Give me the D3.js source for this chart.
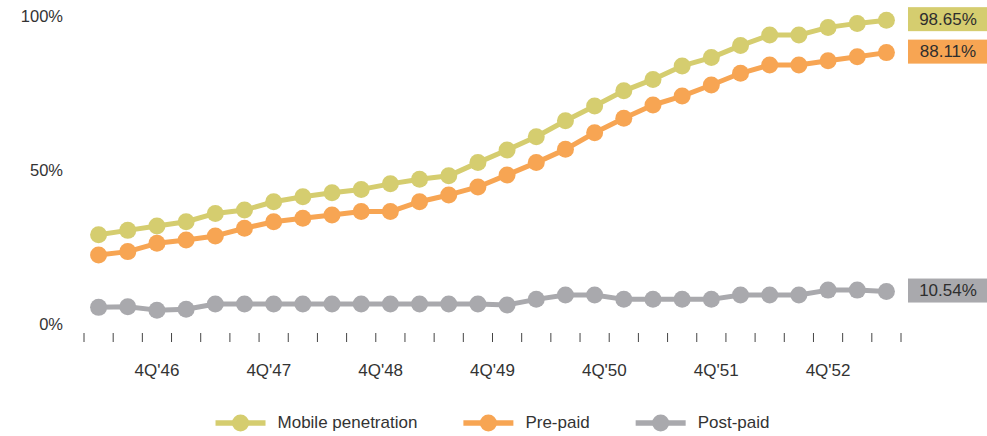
<!DOCTYPE html>
<html>
<head>
<meta charset="utf-8">
<script src="https://cdn.jsdelivr.net/npm/d3@7/dist/d3.min.js"></script>
<style>
  html, body { margin: 0; padding: 0; background: #fff; }
  svg { display: block; font-family: "Liberation Sans", Arial, Helvetica, sans-serif; }
</style>
</head>
<body>
<svg id="chart" width="987" height="436"></svg>
<script>
// Quarterly subscription rates (%), one value per quarter
const periods = d3.range(28);
const mobilePenetration = [29.0, 30.4, 31.8, 33.2, 35.9, 37.0, 39.7, 41.3, 42.6, 43.7, 45.5, 47.0, 48.1, 52.4,
                           56.5, 60.8, 66.0, 70.8, 75.7, 79.4, 83.8, 86.5, 90.4, 93.8, 93.8, 96.3, 97.6, 98.65];
const prePaid = [22.4, 23.5, 26.2, 27.3, 28.6, 31.1, 33.2, 34.3, 35.4, 36.5, 36.5, 39.7, 41.9, 44.5,
                 48.4, 52.4, 56.7, 62.1, 66.8, 71.1, 74.0, 77.6, 81.4, 84.1, 84.1, 85.5, 86.8, 88.11];
const postPaid = [5.4, 5.6, 4.5, 4.8, 6.5, 6.5, 6.5, 6.5, 6.5, 6.5, 6.5, 6.5, 6.5, 6.5,
                  6.2, 8.0, 9.4, 9.4, 8.0, 8.0, 8.0, 8.0, 9.4, 9.4, 9.4, 11.0, 11.0, 10.54];
const yTicks = [0, 50, 100];
const tickLabels = ["4Q'46", "4Q'47", "4Q'48", "4Q'49", "4Q'50", "4Q'51", "4Q'52"];
const seriesNames = ["Mobile penetration", "Pre-paid", "Post-paid"];

const series = [
  { name: seriesNames[0], values: mobilePenetration, color: "#d5cd6f" },
  { name: seriesNames[1], values: prePaid, color: "#f7a553" },
  { name: seriesNames[2], values: postPaid, color: "#a9a9ad" }
];

const svg = d3.select("#chart");
const textColor = "#333";

const x = d3.scaleBand().domain(periods).range([84, 901]).padding(0);
const cx = i => x(i) + x.bandwidth() / 2;
const y = d3.scaleLinear().domain([0, 100]).range([324, 16]);

// Y axis labels
svg.append("g").selectAll("text")
  .data(yTicks)
  .join("text")
  .attr("x", 63)
  .attr("y", d => y(d) + 2)
  .attr("text-anchor", "end")
  .attr("dominant-baseline", "middle")
  .attr("font-size", 16.5)
  .attr("fill", textColor)
  .text(d => d + "%");

// Period separator ticks along the bottom
const tickPos = periods.map(i => x(i)).concat([x.range()[1]]);
svg.append("g").selectAll("line")
  .data(tickPos)
  .join("line")
  .attr("x1", d => d).attr("x2", d => d)
  .attr("y1", 333).attr("y2", 342)
  .attr("stroke", "#444")
  .attr("stroke-width", 1);

// Year labels, spread evenly between the 3rd and 26th quarter
const labelX = d3.scalePoint().domain(tickLabels).range([cx(2), cx(25)]);
svg.append("g").selectAll("text")
  .data(tickLabels)
  .join("text")
  .attr("x", d => labelX(d))
  .attr("y", 372)
  .attr("text-anchor", "middle")
  .attr("dominant-baseline", "middle")
  .attr("font-size", 17)
  .attr("fill", textColor)
  .text(d => d);

// Lines with dot markers
const line = d3.line().x((d, i) => cx(i)).y(d => y(d));
const seriesG = svg.append("g").selectAll("g")
  .data(series)
  .join("g");

seriesG.append("path")
  .attr("d", d => line(d.values))
  .attr("fill", "none")
  .attr("stroke", d => d.color)
  .attr("stroke-width", 5)
  .attr("stroke-linejoin", "round");

seriesG.each(function (s) {
  d3.select(this).selectAll("circle")
    .data(s.values)
    .join("circle")
    .attr("cx", (d, i) => cx(i))
    .attr("cy", d => y(d))
    .attr("r", 8.5)
    .attr("fill", s.color);
});

// Latest-value tags on the right
const tags = svg.append("g").selectAll("g")
  .data(series)
  .join("g")
  .attr("transform", d => `translate(908, ${y(d.values[d.values.length - 1]) - 1})`);

tags.append("rect")
  .attr("x", 0).attr("y", -12)
  .attr("width", 79).attr("height", 24)
  .attr("fill", d => d.color);

tags.append("text")
  .attr("x", 40).attr("y", 1)
  .attr("text-anchor", "middle")
  .attr("dominant-baseline", "middle")
  .attr("font-size", 17)
  .attr("fill", "#2e2e2e")
  .text(d => d.values[d.values.length - 1].toFixed(2) + "%");

// Legend, centred under the plot
const legendY = 423;
const legend = svg.append("g");
const items = legend.selectAll("g")
  .data(series)
  .join("g");

items.append("line")
  .attr("x1", 0).attr("x2", 50)
  .attr("y1", 0).attr("y2", 0)
  .attr("stroke", d => d.color)
  .attr("stroke-width", 5.5);
items.append("circle")
  .attr("cx", 25).attr("cy", 0).attr("r", 8.5)
  .attr("fill", d => d.color);
items.append("text")
  .attr("x", 62).attr("y", 1)
  .attr("dominant-baseline", "middle")
  .attr("font-size", 17)
  .attr("fill", textColor)
  .text(d => d.name);

let offset = 0;
const widths = [];
items.each(function () {
  const w = 62 + d3.select(this).select("text").node().getComputedTextLength();
  widths.push(w);
});
const gap = 46;
const total = d3.sum(widths) + gap * (widths.length - 1);
const start = (x.range()[0] + x.range()[1]) / 2 - total / 2;
items.attr("transform", (d, i) => {
  const pos = start + offset;
  offset += widths[i] + gap;
  return `translate(${pos}, ${legendY})`;
});
</script>
</body>
</html>
